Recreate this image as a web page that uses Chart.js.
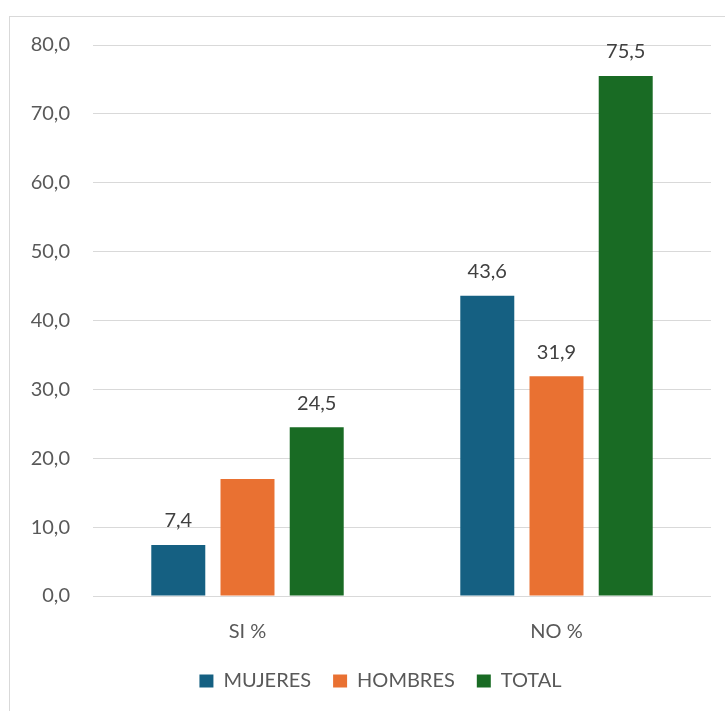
<!DOCTYPE html>
<html>
<head>
<meta charset="utf-8">
<script src="https://cdn.jsdelivr.net/npm/chart.js@4"></script>
<style>
  html, body { margin: 0; padding: 0; background: #fff; }
  #wrap { position: relative; width: 725px; height: 711px; }
  #frame { position: absolute; left: 9px; top: 16px; width: 740px; height: 720px;
    border-left: 1px solid #d9d9d9; border-top: 1px solid #d9d9d9; }
  canvas { position: absolute; left: 0; top: 0; }
</style>
</head>
<body>
<div id="wrap">
  <div id="frame"></div>
  <canvas id="chart" width="725" height="711"></canvas>
</div>
<script>
'use strict';

// Data
let categories = ['SI %', 'NO %'];
let mujeres = [7.4, 43.6];
let hombres = [17.0, 31.9];
let total = [24.5, 75.5];
let yTicks = [0, 10, 20, 30, 40, 50, 60, 70, 80];
// which values carry a label (the HOMBRES SI bar has none)
let showLabels = [[true, true], [false, true], [true, true]];

const ctx = document.getElementById('chart').getContext('2d');

function fmt(v) {
  return v.toFixed(1).replace('.', ',');
}

// draws the value above each bar
let barLabels = {
  id: 'barLabels',
  afterDatasetsDraw(chart) {
    let c = chart.ctx;
    c.save();
    c.font = '20px Lato';
    c.fillStyle = '#404040';
    c.textAlign = 'center';
    c.textBaseline = 'bottom';
    chart.data.datasets.forEach(function (ds, i) {
      let meta = chart.getDatasetMeta(i);
      meta.data.forEach(function (bar, j) {
        if (!showLabels[i][j]) return;
        c.fillText(fmt(ds.data[j]), bar.x, bar.y - 14);
      });
    });
    c.restore();
  }
};

// centre the legend under the plot area rather than the whole canvas
let legendShift = {
  id: 'legendShift',
  afterLayout(chart) {
    chart.legend.left += 25;
    chart.legend.right += 25;
  }
};

let chartObject = {
  type: 'bar',
  data: {
    labels: categories,
    datasets: [
      { label: 'MUJERES', data: mujeres, backgroundColor: '#156082' },
      { label: 'HOMBRES', data: hombres, backgroundColor: '#E97132' },
      { label: 'TOTAL', data: total, backgroundColor: '#196B24' }
    ]
  },
  options: {
    responsive: false,
    animation: false,
    categoryPercentage: 0.672,
    barPercentage: 0.78,
    layout: { padding: { left: 0, right: 14, top: 45, bottom: 10 } },
    scales: {
      x: {
        grid: { display: false },
        border: { display: false },
        afterFit(scale) { scale.height = 53; },
        ticks: { color: '#595959', font: { family: 'Lato', size: 20 }, padding: 16 }
      },
      y: {
        min: 0,
        max: 80,
        afterBuildTicks(scale) {
          scale.ticks = yTicks.map(function (v) { return { value: v }; });
        },
        afterFit(scale) { scale.width = 93; },
        grid: { color: '#d9d9d9', lineWidth: 1, drawTicks: false },
        border: { display: false },
        ticks: {
          color: '#595959',
          font: { family: 'Lato', size: 20 },
          padding: 23,
          callback: function (v) { return fmt(v); }
        }
      }
    },
    plugins: {
      legend: {
        position: 'bottom',
        labels: {
          color: '#595959',
          font: { family: 'Lato', size: 20 },
          boxWidth: 14,
          boxHeight: 13,
          padding: 22
        }
      },
      tooltip: { enabled: false }
    }
  },
  plugins: [barLabels, legendShift]
};

// eslint-disable-next-line no-unused-vars
const myChart = new Chart(ctx, chartObject);
</script>
</body>
</html>
